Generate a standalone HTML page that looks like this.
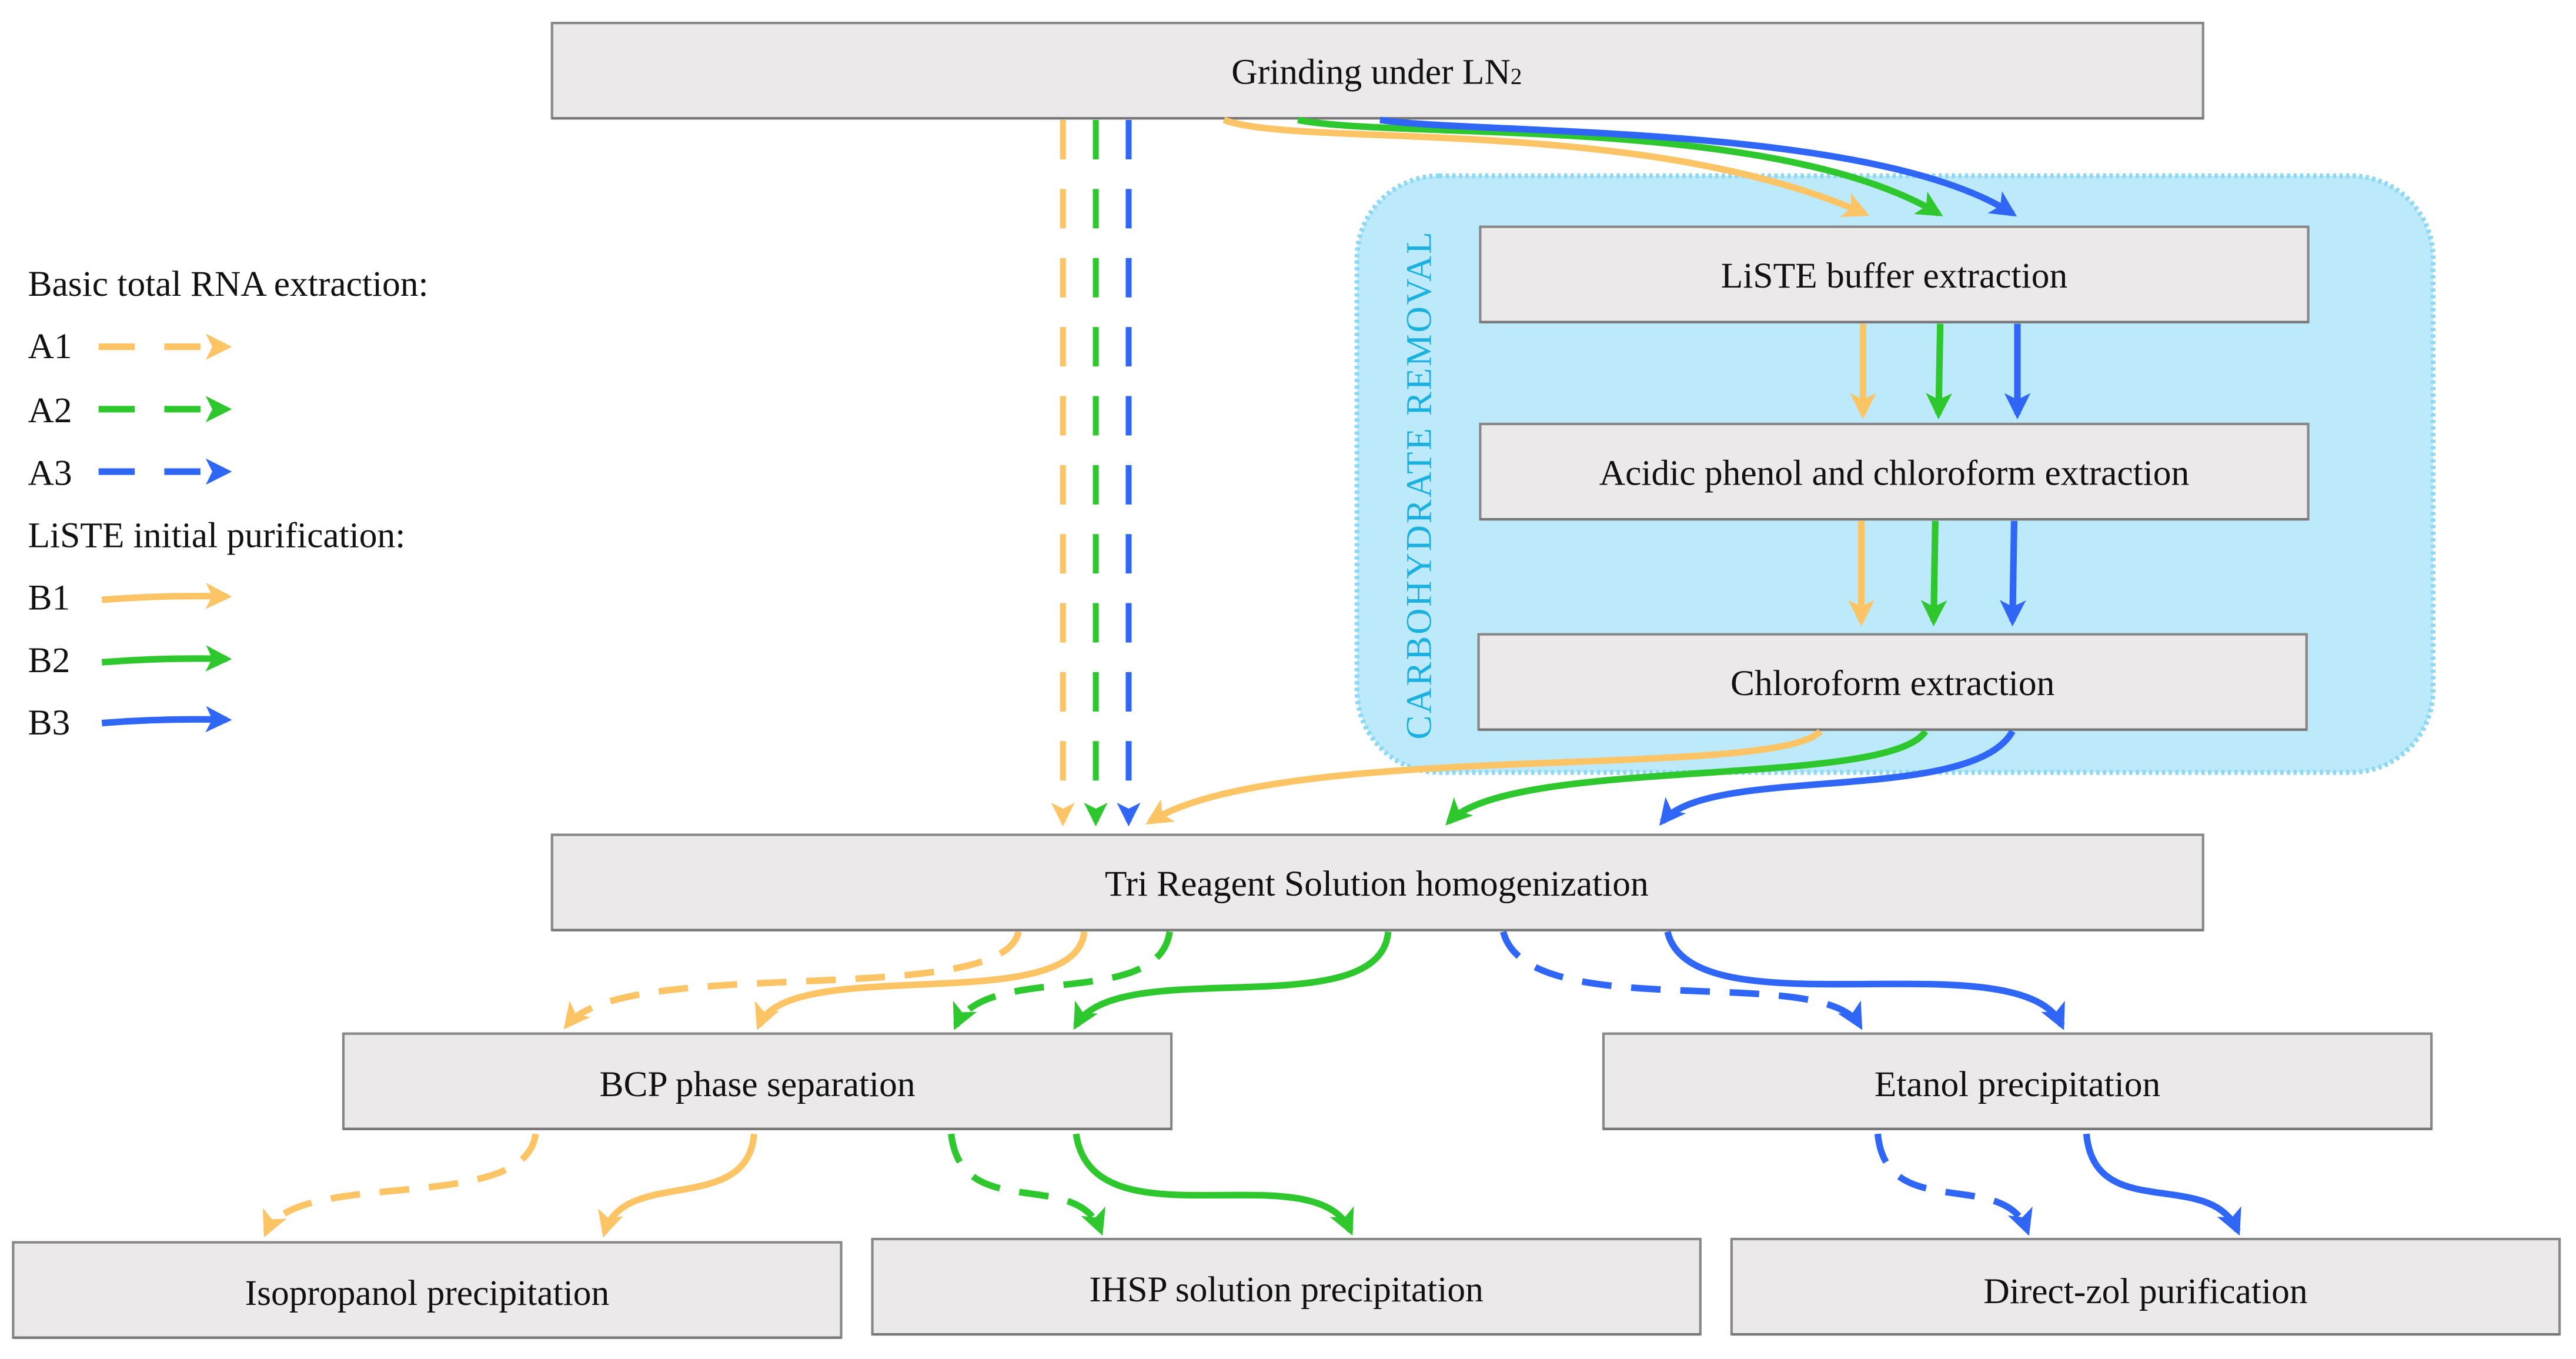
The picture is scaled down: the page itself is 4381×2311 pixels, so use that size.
<!DOCTYPE html>
<html><head><meta charset="utf-8"><style>
html,body{margin:0;padding:0;background:#fff;}
svg{display:block;}
text{font-family:"Liberation Serif",serif;}
</style></head><body>
<svg width="4381" height="2311" viewBox="0 0 1568 827" preserveAspectRatio="none" xmlns="http://www.w3.org/2000/svg">
<defs>
<marker id="mo" viewBox="0 0 10 10" refX="8" refY="5" markerWidth="4" markerHeight="4" orient="auto" markerUnits="strokeWidth"><path d="M0,0 L10,5 L0,10 L2.5,5z" fill="#fdc466"/></marker>
<marker id="mg" viewBox="0 0 10 10" refX="8" refY="5" markerWidth="4" markerHeight="4" orient="auto" markerUnits="strokeWidth"><path d="M0,0 L10,5 L0,10 L2.5,5z" fill="#2ec82e"/></marker>
<marker id="mb" viewBox="0 0 10 10" refX="8" refY="5" markerWidth="4" markerHeight="4" orient="auto" markerUnits="strokeWidth"><path d="M0,0 L10,5 L0,10 L2.5,5z" fill="#2f66f5"/></marker>
</defs>

<!-- carbohydrate region -->
<rect x="826" y="107" width="655" height="363" rx="50" ry="50" fill="#bdeafa" stroke="#8dd8f2" stroke-width="3" stroke-dasharray="2 2"/>
<text transform="translate(871,450) rotate(-90)" font-size="22" fill="#1ab0e0" letter-spacing="1">CARBOHYDRATE REMOVAL</text>

<!-- boxes -->
<g fill="#ebe9e9" stroke="#888" stroke-width="1.5">
<rect x="336" y="14" width="1005" height="58"/>
<rect x="901" y="138" width="504" height="58"/>
<rect x="901" y="258" width="504" height="58"/>
<rect x="900" y="386" width="504" height="58"/>
<rect x="336" y="508" width="1005" height="58"/>
<rect x="209" y="629" width="504" height="58"/>
<rect x="976" y="629" width="504" height="58"/>
<rect x="8" y="756" width="504" height="58"/>
<rect x="531" y="754" width="504" height="58"/>
<rect x="1054" y="754" width="504" height="58"/>
</g>
<g stroke="#777" stroke-width="1.5">
<line x1="336" y1="72" x2="1341" y2="72"/><line x1="901" y1="196" x2="1405" y2="196"/>
<line x1="901" y1="316" x2="1405" y2="316"/><line x1="900" y1="444" x2="1404" y2="444"/>
<line x1="336" y1="566" x2="1341" y2="566"/><line x1="209" y1="687" x2="713" y2="687"/>
<line x1="976" y1="687" x2="1480" y2="687"/><line x1="8" y1="814" x2="512" y2="814"/>
<line x1="531" y1="812" x2="1035" y2="812"/><line x1="1054" y1="812" x2="1558" y2="812"/>
</g>
<g font-size="22" fill="#111" text-anchor="middle">
<text x="838" y="51">Grinding under LN<tspan font-size="14">2</tspan></text>
<text x="1153" y="175">LiSTE buffer extraction</text>
<text x="1153" y="295">Acidic phenol and chloroform extraction</text>
<text x="1152" y="423">Chloroform extraction</text>
<text x="838" y="545">Tri Reagent Solution homogenization</text>
<text x="461" y="667">BCP phase separation</text>
<text x="1228" y="667">Etanol precipitation</text>
<text x="260" y="794">Isopropanol precipitation</text>
<text x="783" y="792">IHSP solution precipitation</text>
<text x="1306" y="793">Direct-zol purification</text>
</g>

<!-- legend -->
<g font-size="22" fill="#111">
<text x="17" y="180">Basic total RNA extraction:</text>
<text x="17" y="218">A1</text><text x="17" y="257">A2</text><text x="17" y="295">A3</text>
<text x="17" y="333">LiSTE initial purification:</text>
<text x="17" y="371">B1</text><text x="17" y="409">B2</text><text x="17" y="447">B3</text>
</g>
<g stroke-width="4" fill="none">
<path d="M60,211 H138" stroke="#fdc466" stroke-dasharray="22 18" marker-end="url(#mo)"/>
<path d="M60,249 H138" stroke="#2ec82e" stroke-dasharray="22 18" marker-end="url(#mg)"/>
<path d="M60,287 H138" stroke="#2f66f5" stroke-dasharray="22 18" marker-end="url(#mb)"/>
<path d="M62,365 Q100,362 138,363" stroke="#fdc466" marker-end="url(#mo)"/>
<path d="M62,403 Q100,400 138,401" stroke="#2ec82e" marker-end="url(#mg)"/>
<path d="M62,440 Q100,437 138,438" stroke="#2f66f5" marker-end="url(#mb)"/>
</g>

<!-- dashed vertical lines -->
<g stroke-width="3.6" fill="none" stroke-dasharray="24 18">
<path d="M647,73 V500" stroke="#fdc466" marker-end="url(#mo)"/>
<path d="M667,73 V500" stroke="#2ec82e" marker-end="url(#mg)"/>
<path d="M687,73 V500" stroke="#2f66f5" marker-end="url(#mb)"/>
</g>

<!-- solid connectors -->
<g stroke-width="4" fill="none">
<path d="M745,73 C790,90 1000,70 1135,130" stroke="#fdc466" marker-end="url(#mo)"/>
<path d="M790,73 C850,85 1080,70 1180,130" stroke="#2ec82e" marker-end="url(#mg)"/>
<path d="M840,73 C900,82 1140,75 1225,130" stroke="#2f66f5" marker-end="url(#mb)"/>
<path d="M1134,197 V252" stroke="#fdc466" marker-end="url(#mo)"/>
<path d="M1181,197 L1180,252" stroke="#2ec82e" marker-end="url(#mg)"/>
<path d="M1228,197 V252" stroke="#2f66f5" marker-end="url(#mb)"/>
<path d="M1133,317 V378" stroke="#fdc466" marker-end="url(#mo)"/>
<path d="M1178,317 L1177,378" stroke="#2ec82e" marker-end="url(#mg)"/>
<path d="M1226,317 L1225,378" stroke="#2f66f5" marker-end="url(#mb)"/>
<path d="M1108,445 C1080,475 780,450 700,500" stroke="#fdc466" marker-end="url(#mo)"/>
<path d="M1172,445 C1150,480 920,460 882,500" stroke="#2ec82e" marker-end="url(#mg)"/>
<path d="M1225,445 C1200,490 1040,465 1012,500" stroke="#2f66f5" marker-end="url(#mb)"/>
<path d="M660,567 C655,620 480,580 462,624" stroke="#fdc466" marker-end="url(#mo)"/>
<path d="M845,567 C840,625 680,580 655,624" stroke="#2ec82e" marker-end="url(#mg)"/>
<path d="M1015,567 C1030,630 1230,570 1255,624" stroke="#2f66f5" marker-end="url(#mb)"/>
<path d="M459,690 C455,740 380,710 368,750" stroke="#fdc466" marker-end="url(#mo)"/>
<path d="M655,690 C665,760 800,700 822,749" stroke="#2ec82e" marker-end="url(#mg)"/>
<path d="M1270,690 C1275,745 1345,710 1362,749" stroke="#2f66f5" marker-end="url(#mb)"/>
</g>
<!-- dashed curved connectors -->
<g stroke-width="4" fill="none" stroke-dasharray="18 12">
<path d="M620,567 C610,615 380,580 345,624" stroke="#fdc466" marker-end="url(#mo)"/>
<path d="M712,567 C705,615 600,585 582,624" stroke="#2ec82e" marker-end="url(#mg)"/>
<path d="M915,567 C930,625 1110,585 1132,624" stroke="#2f66f5" marker-end="url(#mb)"/>
<path d="M326,690 C320,740 180,710 162,750" stroke="#fdc466" marker-end="url(#mo)"/>
<path d="M579,690 C585,745 655,710 670,749" stroke="#2ec82e" marker-end="url(#mg)"/>
<path d="M1143,690 C1148,745 1220,710 1234,749" stroke="#2f66f5" marker-end="url(#mb)"/>
</g>
</svg>
</body></html>
